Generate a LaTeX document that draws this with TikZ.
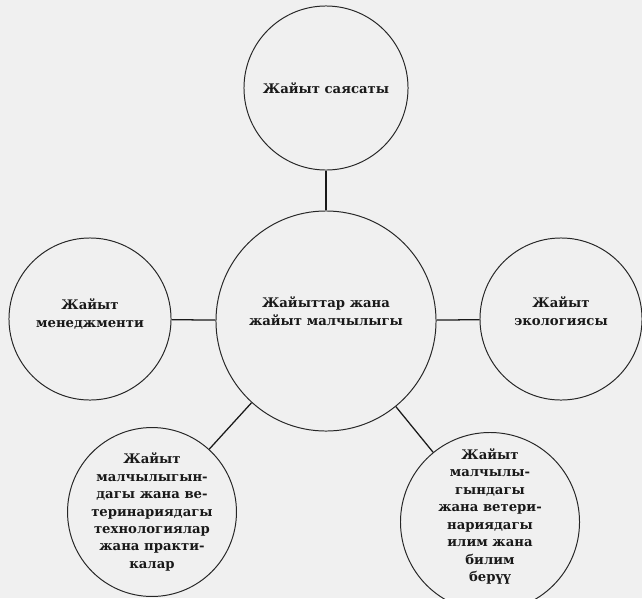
\documentclass[tikz,border=0pt]{standalone}
\usepackage{fontspec}
\setmainfont{DejaVu Serif}

\tikzstyle{topic}=[circle, draw=black!85, line width=0.7pt, inner sep=0pt, align=center, text=black!90, font=\bfseries\fontsize{9.4}{12.4}\selectfont]
\tikzstyle{edge} = [draw, line width=0.9pt, black!90, -]

\begin{document}
\begin{tikzpicture}[x=0.025cm, y=-0.025cm]
	    \fill[black!6] (0,0) rectangle (642,598);
	    \useasboundingbox (0,0) rectangle (642,598);
	    \node[topic, minimum size=5.5cm, text depth=0.5cm] (main) at (326,321) {Жайыттар жана\\жайыт малчылыгы};
	    \node[topic, minimum size=4.1cm] (policy) at (326,88) {Жайыт саясаты};
	    \node[topic, minimum size=4.05cm, text depth=0.3cm] (mgmt) at (90,319) {Жайыт\\менеджменти};
	    \node[topic, minimum size=4.05cm, text depth=0.4cm] (ecology) at (561,319) {Жайыт\\экологиясы};
	    \node[topic, minimum size=4.0cm] (tech) at (152,512) {Жайыт\\малчылыгын-\\дагы жана ве-\\теринариядагы\\технологиялар\\жана практи-\\калар};
	    \node[topic, minimum size=4.1cm, text depth=0.35cm] (science) at (490,522) {Жайыт\\малчылы-\\гындагы\\жана ветери-\\нариядагы\\илим жана\\билим\\берүү};
	    \foreach \source/\dest in {main/policy, main/mgmt, main/ecology, main/tech, main/science}
			\path[edge] (\source) -- (\dest);
	\end{tikzpicture}
\end{document}
